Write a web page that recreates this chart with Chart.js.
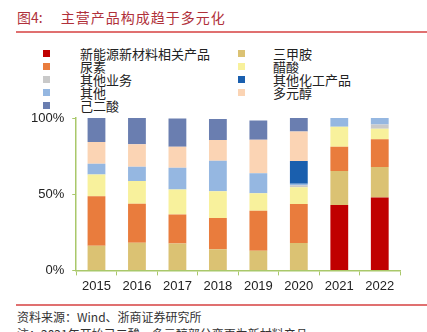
<!DOCTYPE html>
<html>
<head>
<meta charset="utf-8">
<script src="https://cdn.jsdelivr.net/npm/chart.js@4"></script>
<style>
  body { margin: 0; width: 427px; height: 332px; overflow: hidden; background: #fff; position: relative;
         font-family: "Noto Sans CJK SC", "Liberation Sans", sans-serif; }
  #title { position: absolute; left: 17px; top: 7px; font-size: 14px; color: #b0303a; white-space: nowrap; }
  #title span { margin-left: 18px; letter-spacing: 1px; }
  .rule { position: absolute; left: 16px; right: 0; height: 2px; background: #e07070; }
  #legend { position: absolute; left: 0; top: 47px; font-size: 13px; color: #222; }
  .item { position: absolute; white-space: nowrap; line-height: 13px; }
  .item i { position: absolute; width: 7px; height: 7px; top: 3px; }
  #source { position: absolute; left: 17px; top: 308px; font-size: 12px; color: #333; white-space: nowrap; }
  #note { position: absolute; left: 17px; top: 325px; font-size: 12px; color: #333; white-space: nowrap; }
  #wrap { position: absolute; left: 0; top: 0; width: 427px; height: 300px; }
</style>
</head>
<body>
<div id="title">图4:<span>主营产品构成趋于多元化</span></div>
<div class="rule" style="top:31px"></div>
<div id="legend"></div>
<div id="wrap"><canvas id="chart"></canvas></div>
<div class="rule" style="top:304px"></div>
<div id="source">资料来源：Wind、浙商证券研究所</div>
<div id="note">注：2021年开始己二酸、多元醇部分变更为新材料产品</div>
<script>
const years = ['2015', '2016', '2017', '2018', '2019', '2020', '2021', '2022'];

const newMaterials = [0, 0, 0, 0, 0, 0, 42.9, 47.8];
const trimethylamine = [16.2, 18.2, 17.6, 13.8, 12.9, 18.0, 22.4, 20.0];
const urea = [32.5, 25.6, 19.1, 20.6, 26.2, 25.6, 15.8, 18.2];
const aceticAcid = [14.2, 14.9, 16.4, 17.6, 11.6, 11.0, 13.1, 6.9];
const otherBusiness = [0, 0, 0, 0, 0, 1.2, 0, 2.9];
const others = [7.1, 9.3, 14.2, 20.0, 13.1, 1.0, 5.8, 4.2];
const otherChemicals = [0, 0, 0, 0, 0, 15.0, 0, 0];
const polyols = [14.2, 14.7, 13.8, 13.6, 22.0, 19.4, 0, 0];
const adipicAcid = [15.8, 17.3, 18.5, 13.7, 12.6, 9.1, 0, 0];

const yTicks = [0, 50, 100];

// stack order, bottom to top
const series = [
  { label: '新能源新材料相关产品', data: newMaterials, color: '#c00000' },
  { label: '三甲胺', data: trimethylamine, color: '#dbc273' },
  { label: '尿素', data: urea, color: '#e97c3d' },
  { label: '醋酸', data: aceticAcid, color: '#f8f19c' },
  { label: '其他业务', data: otherBusiness, color: '#c9c9c9' },
  { label: '其他', data: others, color: '#95b7e1' },
  { label: '其他化工产品', data: otherChemicals, color: '#1a5fae' },
  { label: '多元醇', data: polyols, color: '#fbd4b4' },
  { label: '己二酸', data: adipicAcid, color: '#6a7eb0' }
];

// legend: two columns like the original
const legendCols = [
  ['新能源新材料相关产品', '尿素', '其他业务', '其他', '己二酸'],
  ['三甲胺', '醋酸', '其他化工产品', '多元醇']
];
const legendEl = document.getElementById('legend');
legendCols.forEach((col, c) => {
  col.forEach((name, r) => {
    const s = series.find(x => x.label === name);
    const item = document.createElement('div');
    item.className = 'item';
    item.style.left = (c === 0 ? 80 : 273) + 'px';
    item.style.top = (r * 13) + 'px';
    item.innerHTML = `<i style="background:${s.color};left:${c === 0 ? -37 : -35}px"></i>${name}`;
    legendEl.appendChild(item);
  });
});

const axisGreen = '#a9c86a';

new Chart(document.getElementById('chart'), {
  type: 'bar',
  data: {
    labels: years,
    datasets: series.map(s => ({
      label: s.label,
      data: s.data,
      backgroundColor: s.color,
      borderWidth: 0,
      barPercentage: 0.44,
      categoryPercentage: 1
    }))
  },
  options: {
    responsive: true,
    maintainAspectRatio: false,
    animation: false,
    layout: { padding: { top: 118, right: 27, left: 23, bottom: 3 } },
    plugins: { legend: { display: false }, tooltip: { enabled: false } },
    scales: {
      x: {
        stacked: true,
        grid: { offset: true, drawOnChartArea: false, color: axisGreen, tickLength: 5 },
        border: { color: axisGreen, width: 1.5 },
        ticks: { color: '#222', font: { family: 'Liberation Sans', size: 13 }, padding: 3 }
      },
      y: {
        stacked: true,
        min: 0,
        max: 100,
        afterBuildTicks: axis => { axis.ticks = yTicks.map(v => ({ value: v })); },
        grid: { drawOnChartArea: false, color: axisGreen, tickLength: 4 },
        border: { color: axisGreen, width: 1.5 },
        ticks: { color: '#222', font: { family: 'Liberation Sans', size: 13 }, padding: 8, callback: v => v + '%' }
      }
    }
  }
});
</script>
</body>
</html>
